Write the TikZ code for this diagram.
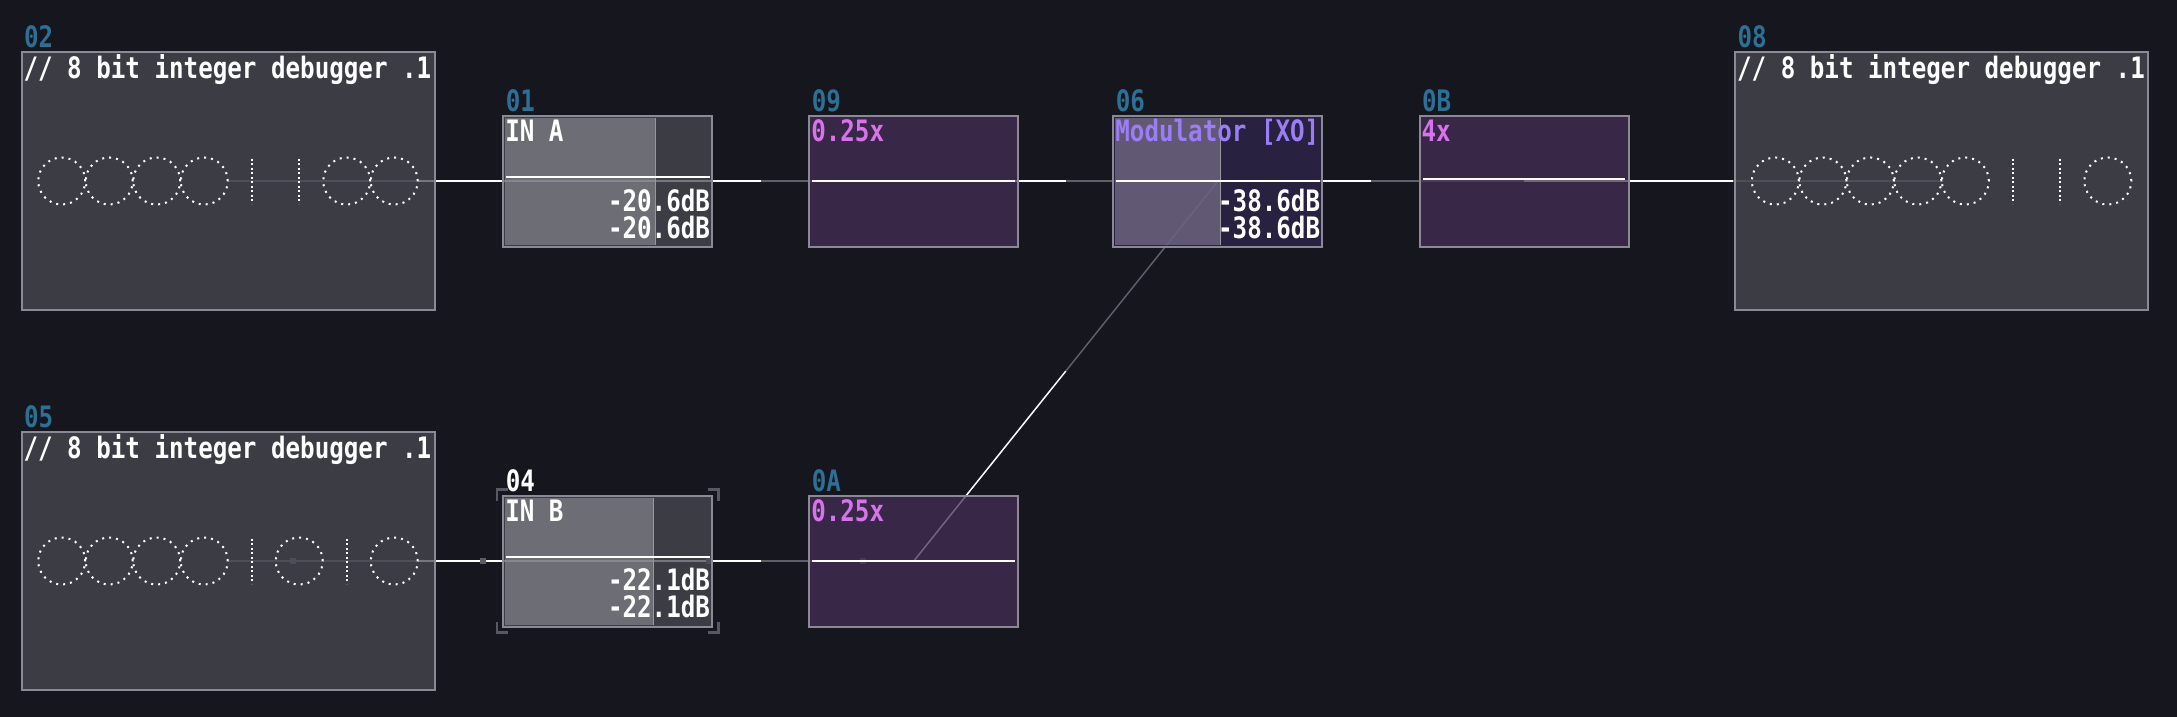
\documentclass[tikz,border=0pt]{standalone}
\usepackage{fontspec}
\newfontfamily\pixfont[FakeStretch=0.82]{DejaVu Sans Mono}
\usetikzlibrary{calc}
\definecolor{bgcol}{RGB}{22,22,31}
\definecolor{dbgfill}{RGB}{73,73,83}
\definecolor{lightfill}{RGB}{150,150,158}
\definecolor{purplefill}{RGB}{70,46,86}
\definecolor{modfill}{RGB}{47,38,74}
\definecolor{modlight}{RGB}{150,142,165}
\definecolor{bordercol}{RGB}{140,136,150}
\definecolor{wiregray}{RGB}{95,95,105}
\definecolor{idblue}{RGB}{45,112,150}
\definecolor{ampcol}{RGB}{215,115,235}
\definecolor{modtext}{RGB}{155,125,245}
\definecolor{sqcol}{RGB}{92,92,104}
\definecolor{selcol}{RGB}{88,88,100}
\definecolor{divcol}{RGB}{150,150,158}
\pgfdeclarelayer{backlayer}
\pgfdeclarelayer{wirelayer}
\pgfsetlayers{backlayer,wirelayer,main}
\newcommand\modlink[3][]{%
  \draw[wirew,#1] (#2.center) -- ($(#2.center)!0.5!(#3.center)$);
  \draw[wireg,#1] ($(#2.center)!0.5!(#3.center)$) -- (#3.center);}
\newcommand\bitrow[2]{%
  \foreach \b [count=\i from 0] in {#2} {
    \coordinate (bc) at ($(#1.west)+(40.25+47.5*\i,0)$);
    \ifnum\b=0
      \draw[bitzero] (bc) circle[radius=23.5pt];
    \else
      \draw[bitone] ($(bc)+(0,-22.5)$) -- ($(bc)+(0,22.5)$);
    \fi
  }}
\begin{document}
\begin{tikzpicture}[x=1pt,y=-1pt,
  pix/.style={font=\pixfont\bfseries\fontsize{29.5}{30}\selectfont, inner sep=0pt, outer sep=0pt},
  idl/.style={pix, anchor=base west, text=idblue},
  ttl/.style={pix, anchor=base west, text=white},
  dbv/.style={pix, anchor=base east, text=white},
  modbox/.style={rectangle, draw=bordercol, line width=2pt, fill opacity=0.75, inner sep=0pt, outer sep=0pt},
  dbg/.style={modbox, fill=dbgfill, minimum width=413.3pt, minimum height=258.6pt},
  smallbox/.style={modbox, minimum width=209pt, minimum height=131pt},
  gainbox/.style={smallbox, fill=dbgfill},
  ampbox/.style={smallbox, fill=purplefill},
  modulbox/.style={smallbox, fill=modfill},
  wirew/.style={white, line width=2pt},
  wireg/.style={wiregray, line width=2pt},
  bitzero/.style={white, line width=2pt, dash pattern=on 2pt off 5pt},
  bitone/.style={white, line width=2pt, dash pattern=on 2pt off 2.5pt},
  levelline/.style={white, line width=2pt},
  divider/.style={divcol, line width=1.5pt},
  selmark/.style={selcol, line width=2.5pt}
]
\useasboundingbox (0,0) rectangle (2177,717);
\begin{pgfonlayer}{backlayer}
  \fill[bgcol] (0,0) rectangle (2177,717);
\end{pgfonlayer}

% module boxes
\node[dbg] (m02) at (228.15,181) {};
\node[dbg] (m05) at (228.15,561) {};
\node[dbg] (m08) at (1941.75,181) {};
\node[gainbox] (m01) at (607.8,181) {};
\node[gainbox] (m04) at (607.8,561) {};
\node[ampbox] (m09) at (913.8,181) {};
\node[ampbox] (m0A) at (913.8,561) {};
\node[modulbox] (m06) at (1217.9,181) {};
\node[ampbox] (m0B) at (1524,181) {};

% connections
\begin{pgfonlayer}{wirelayer}
  \modlink{m01}{m02}
  \modlink{m01}{m09}
  \modlink{m09}{m06}
  \modlink{m06}{m0B}
  \modlink{m0B}{m08}
  \modlink{m04}{m05}
  \modlink{m04}{m0A}
  \modlink[line width=1.5pt]{m0A}{m06}
  \fill[sqcol] (289.7,558) rectangle ++(6,6);
  \fill[sqcol] (479.7,558) rectangle ++(6,6);
  \fill[sqcol] (705.7,558) rectangle ++(6,6);
  \fill[sqcol] (860.3,558) rectangle ++(6,6);
\end{pgfonlayer}

% gain modules: level region
\fill[lightfill, fill opacity=0.55] ($(m01.north west)+(1.5,2)$) rectangle ($(m01.south west)+(152.4,-2)$);
\draw[divider] ($(m01.north west)+(152.4,2)$) -- ($(m01.south west)+(152.4,-2)$);
\fill[lightfill, fill opacity=0.55] ($(m04.north west)+(1.5,2)$) rectangle ($(m04.south west)+(150,-2)$);
\draw[divider] ($(m04.north west)+(150,2)$) -- ($(m04.south west)+(150,-2)$);
\fill[modlight, fill opacity=0.52] ($(m06.north west)+(1.5,2)$) rectangle ($(m06.south west)+(107.3,-2)$);
\draw[divider] ($(m06.north west)+(107.3,2)$) -- ($(m06.south west)+(107.3,-2)$);

% level lines
\draw[levelline] ($(m01.north west)+(2.7,61.4)$) -- ($(m01.north east)+(-2.3,61.4)$);
\draw[levelline] ($(m04.north west)+(2.7,61.4)$) -- ($(m04.north east)+(-2.3,61.4)$);
\draw[levelline] ($(m09.west)+(3,0)$) -- ($(m09.east)+(-3,0)$);
\draw[levelline] ($(m0A.west)+(3,0)$) -- ($(m0A.east)+(-3,0)$);
\draw[levelline] ($(m06.west)+(2.6,0)$) -- ($(m06.east)+(-2.7,0)$);
\draw[levelline] ($(m0B.west)+(3.7,-2)$) -- ($(m0B.east)+(-3.7,-2)$);

% selection marks around 04
\draw[selmark] ($(m04.north west)+(-6.3,5)$) -- ++(0,-11) -- ++(11,0);
\draw[selmark] ($(m04.north east)+(-4.7,-6)$) -- ++(11,0) -- ++(0,11);
\draw[selmark] ($(m04.south west)+(-6.3,-5)$) -- ++(0,11) -- ++(11,0);
\draw[selmark] ($(m04.south east)+(-4.7,6)$) -- ++(11,0) -- ++(0,-11);

% debugger bits
\bitrow{m02}{0,0,0,0,1,1,0,0}
\bitrow{m05}{0,0,0,0,1,0,1,0}
\bitrow{m08}{0,0,0,0,0,1,1,0}

% id labels
\node[idl] (l02) at ($(m02.north west)+(2.5,-4.4)$) {02};
\node[idl] (l05) at ($(m05.north west)+(2.5,-4.4)$) {05};
\node[idl] (l08) at ($(m08.north west)+(2.5,-4.4)$) {08};
\node[idl] (l01) at ($(m01.north west)+(2.5,-4.4)$) {01};
\node[idl, text=white] (l04) at ($(m04.north west)+(2.5,-4.4)$) {04};
\node[idl] (l09) at ($(m09.north west)+(2.5,-4.4)$) {09};
\node[idl] (l0A) at ($(m0A.north west)+(2.5,-4.4)$) {0A};
\node[idl] (l06) at ($(m06.north west)+(2.5,-4.4)$) {06};
\node[idl] (l0B) at ($(m0B.north west)+(2.5,-4.4)$) {0B};

% titles
\node[ttl] (t02) at ($(m02.north west)+(2,26.6)$) {// 8 bit integer debugger .1};
\node[ttl] (t05) at ($(m05.north west)+(2,26.6)$) {// 8 bit integer debugger .1};
\node[ttl] (t08) at ($(m08.north west)+(2,26.6)$) {// 8 bit integer debugger .1};
\node[ttl] (t01) at ($(m01.north west)+(2,26)$) {IN A};
\node[ttl] (t04) at ($(m04.north west)+(2,26)$) {IN B};
\node[ttl, text=ampcol] (t09) at ($(m09.north west)+(2,26)$) {0.25x};
\node[ttl, text=ampcol] (t0A) at ($(m0A.north west)+(2,26)$) {0.25x};
\node[ttl, text=modtext] (t06) at ($(m06.north west)+(2,26)$) {Modulator [XO]};
\node[ttl, text=ampcol] (t0B) at ($(m0B.north west)+(2,26)$) {4x};

% dB values
\node[dbv] (v01a) at ($(m01.north east)+(-2.3,95.7)$) {-20.6dB};
\node[dbv] (v01b) at ($(m01.north east)+(-2.3,123)$) {-20.6dB};
\node[dbv] (v04a) at ($(m04.north east)+(-2.3,95)$) {-22.1dB};
\node[dbv] (v04b) at ($(m04.north east)+(-2.3,122.4)$) {-22.1dB};
\node[dbv] (v06a) at ($(m06.north east)+(-2.3,95.7)$) {-38.6dB};
\node[dbv] (v06b) at ($(m06.north east)+(-2.3,123)$) {-38.6dB};
\end{tikzpicture}
\end{document}
